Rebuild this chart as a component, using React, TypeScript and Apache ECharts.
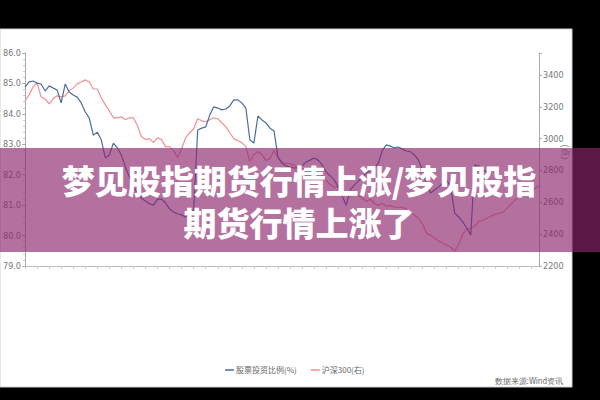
import React, { useEffect, useRef } from "react";
import * as echarts from "echarts";

// 股票投资比例(%) — left axis
const stockRatio: (number | null)[] = [
  84.88, 85.05, 85.08, 85.01, 84.98, 84.75, 84.92, 84.85, 84.78, 84.36,
  84.98, 84.72, 84.62, 84.55, 84.36, 84.06, 83.86, 83.30, 83.40, 83.14,
  82.55, 82.65, 83.04, 82.88, 82.65, 82.25, 81.92, 81.60, 81.40, 81.23,
  81.14, 81.04, 81.00, 81.20, 81.20, 81.07, 80.87, 80.77, 80.71, 80.68,
  80.61, 80.71, 80.84, 83.47, 83.53, 83.57, 83.96, 84.23, 84.19, 84.13,
  84.16, 84.26, 84.46, 84.46, 84.36, 84.19, 83.14, 83.04, 83.93, 83.80,
  83.70, 83.53, 83.44, 82.58, 82.38, 82.29, 82.25, 82.22, 82.22, 82.29,
  82.42, 82.48, 82.55, 82.48, 82.32, 82.09, 81.96, 81.83, 81.60, 81.30,
  81.00, 81.50, 81.66, 81.79, 81.92, 82.06, 82.15, 82.22, 82.38, 82.81,
  82.98, 82.94, 82.88, 82.91, 82.84, 82.78, 82.75, 82.65, 82.48, 82.15,
  81.66, 81.40, 81.50, 81.60, 81.73, 81.83, 81.60, 80.74, 80.61, 80.45,
  80.25, 80.02, 82.32, 82.29, 82.15, 82.09, 81.99,
];

// 沪深300(右) — right axis
const hs300: number[] = [
  3238, 3275, 3325, 3350, 3262, 3250, 3219, 3250, 3269, 3262,
  3269, 3300, 3319, 3344, 3356, 3369, 3356, 3312, 3312, 3256,
  3212, 3175, 3131, 3131, 3137, 3119, 3131, 3131, 3081, 3012,
  2994, 3000, 2975, 3006, 2994, 2950, 2950, 2925, 2881, 2937,
  3006, 3037, 3062, 3125, 3112, 3106, 3119, 3131, 3125, 3100,
  3075, 3037, 3000, 2987, 2975, 2950, 2856, 2900, 2919, 2900,
  2862, 2875, 2925, 2881, 2850, 2844, 2844, 2831, 2819, 2812,
  2812, 2800, 2775, 2750, 2769, 2737, 2712, 2694, 2700, 2675,
  2662, 2637, 2662, 2644, 2625, 2606, 2619, 2594, 2581, 2594,
  2575, 2581, 2569, 2569, 2569, 2556, 2537, 2519, 2500, 2462,
  2406, 2394, 2375, 2356, 2344, 2331, 2319, 2294, 2337, 2400,
  2431, 2437, 2450, 2481, 2487, 2500, 2512, 2525, 2531, 2537,
  2562, 2587, 2612, 2637, 2644, 2656, 2662, 2687, 2706,
];

const categories: string[] = hs300.map((_, i) => String(i + 1));

const seriesNames = ["股票投资比例(%)", "沪深300(右)"];
const titleLines = ["梦见股指期货行情上涨/梦见股指", "期货行情上涨了"];
const sourceText = "数据来源:Wind资讯";

const narrowFont = "'Liberation Sans Narrow', 'DejaVu Sans Condensed', sans-serif";
const cjkFont = "'Noto Sans CJK SC', sans-serif";

export default function App() {
  const ref = useRef<HTMLDivElement>(null);

  useEffect(() => {
    if (!ref.current) return;
    const chart = echarts.init(ref.current, undefined, { renderer: "svg" });
    chart.setOption({
      animation: false,
      backgroundColor: "#000000",
      grid: { left: 25, right: 61, top: 53, bottom: 134 },
      legend: {
        data: seriesNames,
        top: 361,
        left: 220,
        icon: "rect",
        itemWidth: 9,
        itemHeight: 1.5,
        itemGap: 14,
        itemStyle: { borderWidth: 0 },
        textStyle: { fontSize: 8, color: "#666", fontFamily: cjkFont, padding: [0, 0, 0, -3] },
      },
      xAxis: {
        type: "category",
        data: categories,
        boundaryGap: false,
        axisLine: { lineStyle: { color: "#bbb", width: 1 } },
        axisTick: { show: true, interval: 2, length: 3, lineStyle: { color: "#ccc" } },
        axisLabel: { show: false },
        splitLine: { show: false },
      },
      yAxis: [
        {
          type: "value",
          min: 79,
          max: 86,
          interval: 1,
          position: "left",
          axisLine: { show: true, lineStyle: { color: "#aaa" } },
          axisTick: { show: true, length: 3, lineStyle: { color: "#aaa" } },
          minorTick: { show: true, splitNumber: 5, length: 2, lineStyle: { color: "#ccc" } },
          axisLabel: {
            formatter: (v: number) => v.toFixed(1),
            fontSize: 9,
            color: "#777",
            margin: 4,
            fontFamily: narrowFont,
          },
          splitLine: { show: false },
        },
        {
          type: "value",
          min: 2200,
          max: 3538,
          interval: 200,
          position: "right",
          axisLine: { show: true, lineStyle: { color: "#aaa" } },
          axisTick: { show: true, length: 3, lineStyle: { color: "#aaa" } },
          axisLabel: {
            formatter: (v: number) => (v > 3400 ? "" : String(v)),
            fontSize: 9,
            color: "#777",
            margin: 4,
            fontFamily: narrowFont,
          },
          splitLine: { show: false },
        },
      ],
      series: [
        {
          name: seriesNames[0],
          type: "line",
          yAxisIndex: 0,
          data: stockRatio,
          showSymbol: false,
          symbol: "none",
          lineStyle: { color: "#4a6c9e", width: 1.2 },
          itemStyle: { color: "#4a6c9e" },
          z: 3,
        },
        {
          name: seriesNames[1],
          type: "line",
          yAxisIndex: 1,
          data: hs300,
          showSymbol: false,
          symbol: "none",
          lineStyle: { color: "#f29090", width: 1.2 },
          itemStyle: { color: "#f29090" },
          z: 2,
        },
      ],
      graphic: [
        {
          type: "rect",
          z: -10,
          shape: { x: 0, y: 29, width: 572, height: 358 },
          style: { fill: "#ffffff", stroke: "#cfcfcf", lineWidth: 1 },
        },
        {
          type: "text",
          z: 5,
          x: 565,
          y: 152,
          rotation: -Math.PI / 2,
          style: { text: "(点)", fontSize: 9, fill: "#888", fontFamily: cjkFont, textAlign: "center", textVerticalAlign: "middle" },
        },
        {
          type: "text",
          z: 5,
          x: 563,
          y: 381,
          style: { text: sourceText, fontSize: 8, fill: "#666", fontFamily: narrowFont, textAlign: "right", textVerticalAlign: "middle" },
        },
        {
          type: "rect",
          z: 100,
          shape: { x: 0, y: 148, width: 600, height: 104 },
          style: { fill: "rgba(140,37,109,0.65)" },
        },
        {
          type: "text",
          z: 101,
          x: 299,
          y: 201,
          style: {
            text: titleLines.join("\n"),
            fontSize: 33,
            lineHeight: 42,
            fontWeight: 900,
            fill: "#ffffff",
            fontFamily: cjkFont,
            textAlign: "center",
            textVerticalAlign: "middle",
          },
        },
      ],
    });
    return () => chart.dispose();
  }, []);

  return (
    <div style={{ position: "absolute", left: 0, top: 0, width: 600, height: 400, background: "#000" }}>
      <div ref={ref} style={{ width: 600, height: 400 }} />
    </div>
  );
}
